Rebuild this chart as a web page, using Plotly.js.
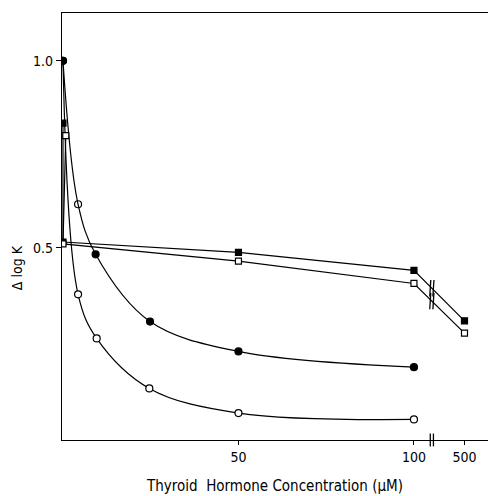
<!DOCTYPE html>
<html>
<head>
<meta charset="utf-8">
<script src="https://cdn.plot.ly/plotly-3.0.1.min.js"></script>
<style>html,body{margin:0;padding:0;background:#fff}#chart{width:488px;height:496px}</style>
</head>
<body>
<div id="chart"></div>
<script>
// ---- data ----
const filledCircleConc = [0, 4.3, 9.3, 24.8, 50, 100];
const filledCircleLogK = [1.0, 0.616, 0.482, 0.302, 0.222, 0.18];
const filledCircleSymbols = ['circle', 'circle-open', 'circle', 'circle', 'circle', 'circle'];

const openCircleConc = [0, 4.3, 9.6, 24.6, 50, 100];
const openCircleLogK = [1.0, 0.375, 0.257, 0.123, 0.057, 0.04];

const filledSquareConc = [0, 0, 50, 100, 500];
const filledSquareLogK = [0.833, 0.515, 0.487, 0.439, 0.304];

const openSquareConc = [0.8, 0, 50, 100, 500];
const openSquareLogK = [0.80, 0.51, 0.464, 0.404, 0.271];

const tickConc = [50, 100, 500];
const tickLabels = ['50', '100', '500'];
const yTickVals = [0.5, 1.0];
const yTickLabels = ['0.5', '1.0'];

// ---- broken x-axis mapping (values above 100 drawn past the break) ----
const BREAK_AT = 105.1;
const POS_500 = 114.4;
function xPos(c) { return c <= 100 ? c : POS_500; }

const FONT = '"DejaVu Sans Condensed", "Liberation Sans Narrow", "DejaVu Sans", sans-serif';
const lineStyle = {color: '#000', width: 1.2};

const traces = [
  {x: openCircleConc.map(xPos), y: openCircleLogK, mode: 'lines+markers',
   line: Object.assign({shape: 'spline', smoothing: 1.0}, lineStyle),
   marker: {symbol: 'circle', size: 7, color: '#fff', line: {color: '#000', width: 1.2}}},
  {x: filledCircleConc.map(xPos), y: filledCircleLogK, mode: 'lines+markers',
   line: Object.assign({shape: 'spline', smoothing: 1.0}, lineStyle),
   marker: {symbol: filledCircleSymbols, size: 7, color: '#000', line: {color: '#000', width: 1.2}}},
  {x: filledSquareConc.map(xPos), y: filledSquareLogK, mode: 'lines+markers',
   line: lineStyle,
   marker: {symbol: 'square', size: 6, color: '#000', line: {color: '#000', width: 1.2}}},
  {x: openSquareConc.map(xPos), y: openSquareLogK, mode: 'lines+markers',
   line: lineStyle,
   marker: {symbol: 'square', size: 6, color: '#fff', line: {color: '#000', width: 1.2}}}
];

// break marks on the two square lines and on the x-axis
const shapes = [];
[[filledSquareConc, filledSquareLogK], [openSquareConc, openSquareLogK]].forEach(([xs, ys]) => {
  const n = xs.length;
  const x1 = xPos(xs[n - 2]), x2 = xPos(xs[n - 1]);
  const yb = ys[n - 2] + (ys[n - 1] - ys[n - 2]) * (BREAK_AT - x1) / (x2 - x1);
  [-0.45, 0.45].forEach(dx => {
    shapes.push({type: 'line', xref: 'x', yref: 'y', x0: BREAK_AT + dx - 0.15, x1: BREAK_AT + dx + 0.15,
      y0: yb - 0.022, y1: yb + 0.022, line: {color: '#000', width: 1.3}});
  });
});
[-0.45, 0.45].forEach(dx => {
  shapes.push({type: 'line', xref: 'x', yref: 'paper', x0: BREAK_AT + dx, x1: BREAK_AT + dx,
    y0: -0.015, y1: 0.015, line: {color: '#000', width: 1.3}});
});

const layout = {
  width: 488, height: 496,
  margin: {l: 62, r: 0, t: 13, b: 56, pad: 0},
  paper_bgcolor: '#fff', plot_bgcolor: '#fff',
  showlegend: false,
  font: {family: FONT, size: 14, color: '#000'},
  xaxis: {
    range: [-0.28, 121.1], showgrid: false, zeroline: false,
    showline: true, linecolor: '#000', linewidth: 1.2, mirror: true,
    ticks: 'outside', ticklen: 4, tickwidth: 1, tickcolor: '#000',
    tickvals: tickConc.map(xPos), ticktext: tickLabels,
    tickfont: {family: FONT, size: 14, color: '#000'},
    title: {text: 'Thyroid  Hormone Concentration (μM)', font: {family: FONT, size: 15, color: '#000'}, standoff: 16}
  },
  yaxis: {
    range: [-0.015, 1.128], showgrid: false, zeroline: false,
    showline: true, linecolor: '#000', linewidth: 1.2, mirror: false,
    ticks: 'outside', ticklen: 5, tickwidth: 1, tickcolor: '#000',
    tickvals: yTickVals, ticktext: yTickLabels,
    tickfont: {family: FONT, size: 14, color: '#000'}
  },
  shapes: shapes,
  annotations: [{
    text: 'Δ log K', xref: 'paper', yref: 'y', x: 0, y: 0.445, xshift: -55,
    textangle: -90, showarrow: false, font: {family: FONT, size: 14, color: '#000'}
  }]
};

Plotly.newPlot('chart', traces, layout, {displayModeBar: false, staticPlot: true});
</script>
</body>
</html>
